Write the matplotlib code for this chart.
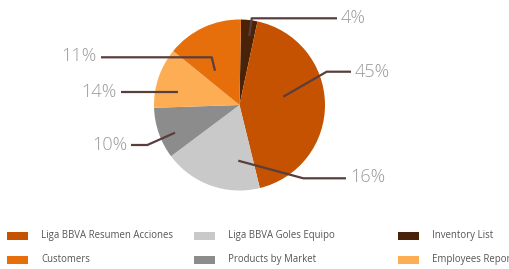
import matplotlib
matplotlib.use("Agg")
import matplotlib.pyplot as plt
from matplotlib.patches import Rectangle

# ---- data ----
categories = ["Inventory List", "Liga BBVA Resumen Acciones", "Liga BBVA Goles Equipo",
              "Products by Market", "Employees Report", "Customers"]
values = [3.1, 42.8, 18.6, 9.7, 11.4, 14.4]
label_texts = ["4%", "45%", "16%", "10%", "14%", "11%"]
legend_order = ["Liga BBVA Resumen Acciones", "Liga BBVA Goles Equipo", "Inventory List",
                "Customers", "Products by Market", "Employees Report"]

# ---- styles ----
colors = {
    "Inventory List": "#4a2208",
    "Liga BBVA Resumen Acciones": "#c45200",
    "Liga BBVA Goles Equipo": "#c9c9c9",
    "Products by Market": "#8c8c8c",
    "Employees Report": "#fdae55",
    "Customers": "#e66f0c",
}
W, H = 510, 269
FONT = "Open Sans"

fig = plt.figure(figsize=(W / 100, H / 100), dpi=100)
ax = fig.add_axes([0, 0, 1, 1])

def Y(y):
    return H - y

cx, cy, r = 239.5, 105, 85.5
ax.pie(values, colors=[colors[c] for c in categories], startangle=89,
       counterclock=False, center=(cx, Y(cy)), radius=r,
       wedgeprops=dict(linewidth=0))
ax.set_xlim(0, W)
ax.set_ylim(0, H)
ax.set_aspect("auto")
ax.axis("off")

# leader lines layout (pixel coords from top-left): polyline, text anchor, alignment
leaders = [
    ([(249.3, 36), (251.7, 18.3), (337, 18.3)], (341, 18), "left"),
    ([(283.3, 96.7), (326.7, 71.7), (351, 71.7)], (355, 72), "left"),
    ([(238.3, 160.7), (303.3, 178.3), (346, 178.3)], (350, 177), "left"),
    ([(175, 132.7), (147.3, 145), (131, 145)], (127, 145), "right"),
    ([(178.3, 91.7), (121, 91.7)], (117, 92), "right"),
    ([(215, 70.7), (211.7, 57.3), (101, 57.3)], (97, 56), "right"),
]
line_color = "#5a3d3d"
for (pts, (tx, ty), ha), txt in zip(leaders, label_texts):
    xs = [p[0] for p in pts]
    ys = [Y(p[1]) for p in pts]
    ax.plot(xs, ys, color=line_color, lw=1.6, solid_capstyle="butt")
    ax.text(tx, Y(ty), txt, ha=ha, va="center", fontsize=13, color="#9a9a9a",
            family=FONT, fontweight="light")

# legend
col_sq_x = [7, 194, 398]
col_tx_x = [41, 228.5, 432]
row_y = [235.5, 259.5]
for i, name in enumerate(legend_order):
    row, col = divmod(i, 3)
    ax.add_patch(Rectangle((col_sq_x[col], Y(row_y[row]) - 4), 21, 8,
                           facecolor=colors[name], edgecolor="none"))
    ax.text(col_tx_x[col], Y(row_y[row]), name, ha="left", va="center",
            fontsize=6.9, color="#555555", family=FONT)

fig.savefig("out.png", dpi=100, facecolor="white")
